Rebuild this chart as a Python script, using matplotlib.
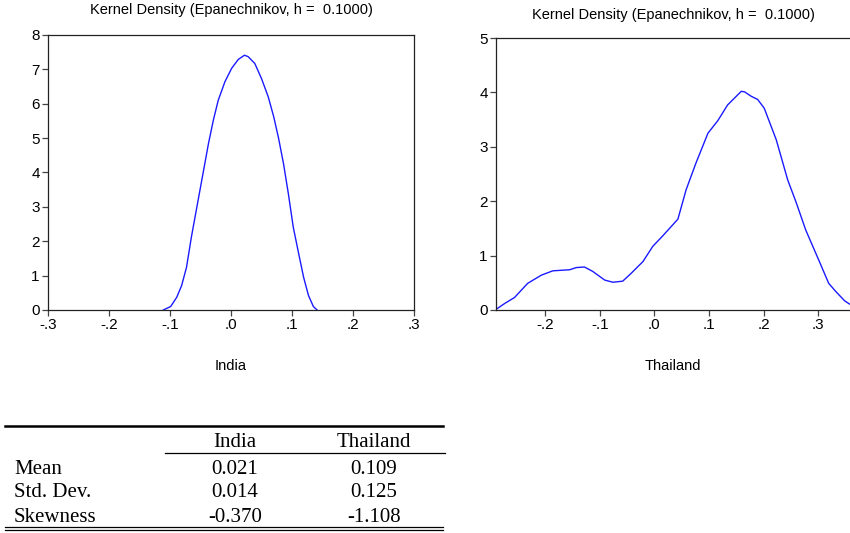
import matplotlib.pyplot as plt
from matplotlib.lines import Line2D

# kernel density curves
india_x = [-0.111, -0.099, -0.089, -0.081, -0.073, -0.065, -0.054, -0.045, -0.037,
           -0.029, -0.021, -0.010, 0.001, 0.012, 0.022, 0.028, 0.039, 0.050, 0.061,
           0.070, 0.078, 0.086, 0.094, 0.102, 0.111, 0.119, 0.127, 0.135, 0.141]
india_y = [0.0, 0.10, 0.37, 0.71, 1.24, 2.12, 3.19, 4.06, 4.84,
           5.52, 6.10, 6.64, 7.03, 7.29, 7.41, 7.37, 7.17, 6.73, 6.20,
           5.62, 4.99, 4.26, 3.38, 2.41, 1.63, 0.95, 0.42, 0.10, 0.0]

thai_x = [-0.2915, -0.274, -0.256, -0.232, -0.207, -0.186, -0.155, -0.143, -0.128,
          -0.113, -0.091, -0.076, -0.058, -0.043, -0.021, -0.003, 0.015, 0.043,
          0.058, 0.076, 0.098, 0.116, 0.134, 0.159, 0.165, 0.177, 0.189, 0.201,
          0.223, 0.244, 0.259, 0.277, 0.302, 0.319, 0.332, 0.348, 0.357]
thai_y = [0.0, 0.12, 0.23, 0.49, 0.64, 0.72, 0.74, 0.78, 0.79,
          0.71, 0.55, 0.51, 0.53, 0.67, 0.89, 1.17, 1.36, 1.67,
          2.21, 2.70, 3.25, 3.48, 3.77, 4.02, 4.01, 3.93, 3.87, 3.71,
          3.13, 2.39, 1.99, 1.47, 0.89, 0.49, 0.34, 0.17, 0.11]

india_ticks = [-0.3, -0.2, -0.1, 0.0, 0.1, 0.2, 0.3]
india_labels = ["-.3", "-.2", "-.1", ".0", ".1", ".2", ".3"]
thai_ticks = [-0.2, -0.1, 0.0, 0.1, 0.2, 0.3]
thai_labels = ["-.2", "-.1", ".0", ".1", ".2", ".3"]

title = "Kernel Density (Epanechnikov, h =  0.1000)"

stat_names = ["Mean", "Std. Dev.", "Skewness"]
stat_india = ["0.021", "0.014", "-0.370"]
stat_thai = ["0.109", "0.125", "-1.108"]

plt.rcParams["font.family"] = ["Liberation Sans", "DejaVu Sans"]

fig = plt.figure(figsize=(8.5, 5.33), dpi=100)


def style(ax):
    for s in ax.spines.values():
        s.set_linewidth(0.9)
        s.set_color("#222222")
    ax.tick_params(direction="out", length=4, width=0.9, color="#444444",
                   labelsize=11, pad=2)


ax1 = fig.add_axes([0.0565, 0.4184, 0.4306, 0.516])
ax1.plot(india_x, india_y, color="#1a1aff", lw=1.0)
ax1.set_xlim(-0.3, 0.3)
ax1.set_ylim(0, 8)
ax1.set_xticks(india_ticks)
ax1.set_xticklabels(india_labels)
ax1.set_yticks(range(0, 9))
style(ax1)
ax1.set_title(title, fontsize=10.5, pad=15)
ax1.set_xlabel("India", fontsize=10.5, labelpad=19)

ax2 = fig.add_axes([0.5835, 0.4184, 0.4165, 0.5103])
ax2.plot(thai_x, thai_y, color="#1a1aff", lw=1.0)
ax2.set_xlim(-0.29, 0.358)
ax2.set_ylim(0, 5)
ax2.set_xticks(thai_ticks)
ax2.set_xticklabels(thai_labels)
ax2.set_yticks(range(0, 6))
style(ax2)
ax2.spines["right"].set_visible(False)
ax2.set_title(title, fontsize=10.5, pad=14)
ax2.set_xlabel("Thailand", fontsize=10.5, labelpad=19)

# summary statistics table (positions in pixels from the top-left corner)
H = 533.0
W = 850.0


def fy(y):
    return 1 - y / H


def fx(x):
    return x / W


serif = ["Liberation Serif", "DejaVu Serif"]
fig.add_artist(Line2D([fx(5), fx(443)], [fy(425.5), fy(425.5)], color="black", lw=1.8))
fig.add_artist(Line2D([fx(165), fx(445)], [fy(453), fy(453)], color="black", lw=0.9))
fig.add_artist(Line2D([fx(5), fx(443)], [fy(526.5), fy(526.5)], color="black", lw=0.9))
fig.add_artist(Line2D([fx(5), fx(443)], [fy(530), fy(530)], color="black", lw=0.9))

fs = 15
fig.text(fx(235), fy(447), "India", family=serif, fontsize=fs, ha="center", va="baseline")
fig.text(fx(374), fy(447), "Thailand", family=serif, fontsize=fs, ha="center", va="baseline")
rows_y = [474, 497, 522]
for name, a, b, yy in zip(stat_names, stat_india, stat_thai, rows_y):
    fig.text(fx(14), fy(yy), name, family=serif, fontsize=fs, ha="left", va="baseline")
    fig.text(fx(235), fy(yy), a, family=serif, fontsize=fs, ha="center", va="baseline")
    fig.text(fx(374), fy(yy), b, family=serif, fontsize=fs, ha="center", va="baseline")

fig.savefig("out.png", dpi=100)
